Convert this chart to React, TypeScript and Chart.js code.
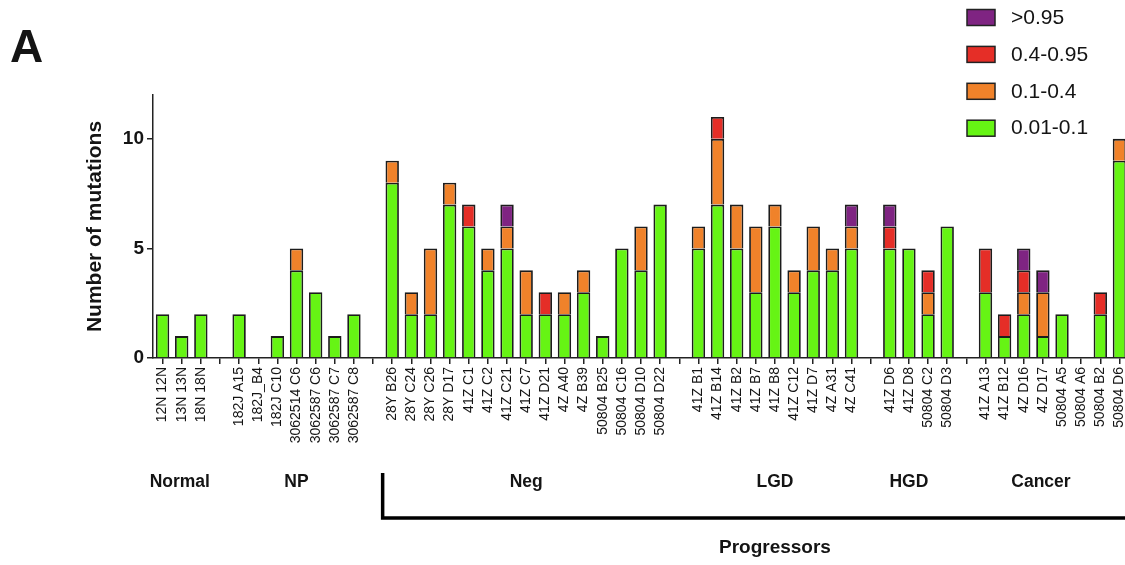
import React, { useEffect, useRef } from "react";
import { Chart, registerables } from "chart.js";

Chart.register(...registerables);

// ---------------- data ----------------
const categories = [
  "12N 12N", "13N 13N", "18N 18N", "",
  "182J A15", "182J_B4", "182J C10", "3062514 C6", "3062587 C6", "3062587 C7", "3062587 C8", "",
  "28Y B26", "28Y C24", "28Y C26", "28Y D17", "41Z C1", "41Z C2", "41Z C21", "41Z C7", "41Z D21",
  "4Z A40", "4Z B39", "50804 B25", "50804 C16", "50804 D10", "50804 D22", "",
  "41Z B1", "41Z B14", "41Z B2", "41Z B7", "41Z B8", "41Z C12", "41Z D7", "4Z A31", "4Z C41", "",
  "41Z D6", "41Z D8", "50804 C2", "50804 D3", "",
  "41Z A13", "41Z B12", "4Z D16", "4Z D17", "50804 A5", "50804 A6", "50804 B2", "50804 D6",
];

// 0.01-0.1
const vaf001to01 = [
  2, 1, 2, 0,
  2, 0, 1, 4, 3, 1, 2, 0,
  8, 2, 2, 7, 6, 4, 5, 2, 2, 2, 3, 1, 5, 4, 7, 0,
  5, 7, 5, 3, 6, 3, 4, 4, 5, 0,
  5, 5, 2, 6, 0,
  3, 1, 2, 1, 2, 0, 2, 9,
];
// 0.1-0.4
const vaf01to04 = [
  0, 0, 0, 0,
  0, 0, 0, 1, 0, 0, 0, 0,
  1, 1, 3, 1, 0, 1, 1, 2, 0, 1, 1, 0, 0, 2, 0, 0,
  1, 3, 2, 3, 1, 1, 2, 1, 1, 0,
  0, 0, 1, 0, 0,
  0, 0, 1, 2, 0, 0, 0, 1,
];
// 0.4-0.95
const vaf04to095 = [
  0, 0, 0, 0,
  0, 0, 0, 0, 0, 0, 0, 0,
  0, 0, 0, 0, 1, 0, 0, 0, 1, 0, 0, 0, 0, 0, 0, 0,
  0, 1, 0, 0, 0, 0, 0, 0, 0, 0,
  1, 0, 1, 0, 0,
  2, 1, 1, 0, 0, 0, 1, 0,
];
// >0.95
const vafAbove095 = [
  0, 0, 0, 0,
  0, 0, 0, 0, 0, 0, 0, 0,
  0, 0, 0, 0, 0, 0, 1, 0, 0, 0, 0, 0, 0, 0, 0, 0,
  0, 0, 0, 0, 0, 0, 0, 0, 1, 0,
  1, 0, 0, 0, 0,
  0, 0, 1, 1, 0, 0, 0, 0,
];

const seriesNames = ["0.01-0.1", "0.1-0.4", "0.4-0.95", ">0.95"];
const seriesValues = [vaf001to01, vaf01to04, vaf04to095, vafAbove095];
const yTickValues = [0, 5, 10];
const yMax = 12;
const yTitle = "Number of mutations";
const panelLetter = "A";
const groupNames = ["Normal", "NP", "Neg", "LGD", "HGD", "Cancer"];
const superGroupName = "Progressors";

// ---------------- styles / layout ----------------
const seriesColors = ["#66f414", "#f0822a", "#e52e27", "#7f2482"];
const groupCenterIndex = [0.9, 7, 19, 32, 39, 45.9];
const bracketStartIndex = 11.5;
const superGroupCenterIndex = 32;
const FONT = "'Liberation Sans', Arial, Helvetica, sans-serif";
const INK = "#141414";

const decorPlugin = {
  id: "decor",
  afterDraw(chart: any) {
    const ctx = chart.ctx as CanvasRenderingContext2D;
    const xs = chart.scales.x;
    const x0 = xs.getPixelForValue(0);
    const step = xs.getPixelForValue(1) - x0;
    const px = (i: number) => x0 + i * step;
    ctx.save();
    ctx.fillStyle = INK;
    // panel letter
    ctx.font = `bold 46px ${FONT}`;
    ctx.textAlign = "left";
    ctx.textBaseline = "alphabetic";
    ctx.fillText(panelLetter, 10, 62);

    // group labels
    ctx.font = `bold 17.5px ${FONT}`;
    ctx.textAlign = "center";
    groupNames.forEach((g, i) => {
      ctx.fillText(g, px(groupCenterIndex[i]), 487);
    });

    // bracket
    ctx.strokeStyle = "#000";
    ctx.lineWidth = 3.5;
    ctx.lineJoin = "miter";
    ctx.beginPath();
    const bx = px(bracketStartIndex);
    ctx.moveTo(bx, 473);
    ctx.lineTo(bx, 518);
    ctx.lineTo(chart.width + 5, 518);
    ctx.stroke();

    ctx.font = `bold 19px ${FONT}`;
    ctx.fillText(superGroupName, px(superGroupCenterIndex), 553);

    // legend (top to bottom: highest VAF first)
    ctx.font = `21px ${FONT}`;
    ctx.textAlign = "left";
    ctx.textBaseline = "middle";
    for (let r = 0; r < 4; r++) {
      const si = 3 - r;
      const y = 9.5 + r * 36.9;
      ctx.fillStyle = seriesColors[si];
      ctx.fillRect(967, y, 28, 16);
      ctx.strokeStyle = "#222";
      ctx.lineWidth = 1.5;
      ctx.strokeRect(967, y, 28, 16);
      ctx.fillStyle = INK;
      ctx.fillText(seriesNames[si], 1011, y + 8.5);
    }
    ctx.restore();
  },
};

export default function App() {
  const ref = useRef<HTMLCanvasElement | null>(null);
  useEffect(() => {
    if (!ref.current) return;
    const chart = new Chart(ref.current, {
      type: "bar",
      data: {
        labels: categories,
        datasets: seriesValues.map((vals, i) => ({
          label: seriesNames[i],
          data: vals.map((v) => (v === 0 ? null : v)),
          backgroundColor: seriesColors[i],
          borderColor: "#1c1c1c",
          borderWidth: 1.8,
          barPercentage: 0.7,
          categoryPercentage: 1,
        })),
      },
      options: {
        animation: false,
        responsive: false,
        maintainAspectRatio: false,
        layout: { padding: { top: 95, left: 0, right: 0, bottom: 0 } },
        plugins: { legend: { display: false }, tooltip: { enabled: false } },
        scales: {
          x: {
            stacked: true,
            offset: true,
            grid: {
              offset: false,
              drawOnChartArea: false,
              drawTicks: true,
              tickLength: 6,
              color: "#222",
              lineWidth: 1.5,
            },
            border: { display: true, color: "#222", width: 1.5 },
            ticks: {
              autoSkip: false,
              minRotation: 90,
              maxRotation: 90,
              padding: 3,
              color: INK,
              font: { family: FONT, size: 14 },
            },
            afterFit: (s: any) => {
              s.height = 207;
              s.paddingLeft = 0;
              s.paddingRight = 0;
            },
          },
          y: {
            stacked: true,
            min: 0,
            max: yMax,
            grid: {
              drawOnChartArea: false,
              drawTicks: true,
              tickLength: 6,
              color: "#222",
              lineWidth: 1.5,
            },
            border: { display: true, color: "#222", width: 1.5 },
            ticks: {
              padding: 3,
              color: INK,
              font: { family: FONT, size: 19, weight: "bold" },
            },
            afterBuildTicks: (s: any) => {
              s.ticks = yTickValues.map((v) => ({ value: v }));
            },
            title: {
              display: true,
              text: yTitle,
              color: INK,
              font: { family: FONT, size: 21, weight: "bold" },
              padding: { top: 83, bottom: 0 },
            },
            afterFit: (s: any) => {
              s.width = 153;
            },
          },
        },
      },
      plugins: [decorPlugin],
    });
    return () => chart.destroy();
  }, []);
  return (
    <div
      style={{
        position: "fixed",
        left: 0,
        top: 0,
        width: 1125,
        height: 565,
        overflow: "hidden",
        background: "#fff",
      }}
    >
      <canvas ref={ref} width={1129} height={565} style={{ display: "block" }} />
    </div>
  );
}
